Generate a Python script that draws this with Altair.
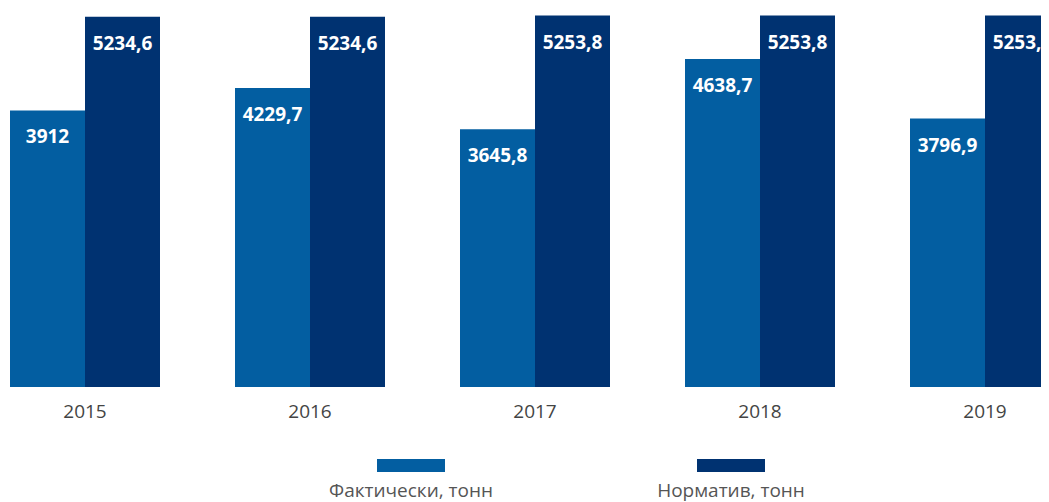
import altair as alt
import pandas as pd

years = ["2015", "2016", "2017", "2018", "2019"]
actual = [3912, 4229.7, 3645.8, 4638.7, 3796.9]
norm = [5234.6, 5234.6, 5253.8, 5253.8, 5253.8]
series = ["Фактически, тонн", "Норматив, тонн"]
colors = ["#035EA1", "#003271"]

rows = []
for i, y in enumerate(years):
    rows.append({"year": y, "series": series[0], "value": actual[i]})
    rows.append({"year": y, "series": series[1], "value": norm[i]})
df = pd.DataFrame(rows)
ldf = pd.DataFrame({"series": series})

FONT = "Open Sans"
color = alt.Color("series:N", scale=alt.Scale(domain=series, range=colors), legend=None)
xscale = alt.Scale(range=[2, 1052], paddingInner=1 / 3, paddingOuter=0)
xoff = alt.XOffset("series:N", scale=alt.Scale(domain=series, paddingInner=0, paddingOuter=0))
yenc = alt.Y("value:Q", scale=alt.Scale(domain=[0, 5360], nice=False), axis=None)

base = alt.Chart(df).transform_calculate(
    label="replace(toString(datum.value), '.', ',')"
)

bars = base.mark_bar(clip=True).encode(
    x=alt.X("year:N", sort=years, scale=xscale,
            axis=alt.Axis(title=None, labelAngle=0, domain=False, ticks=False,
                          labelFontSize=19, labelFont=FONT, labelColor="#444444",
                          labelPadding=15)),
    xOffset=xoff,
    y=yenc,
    color=color,
)

text = base.mark_text(clip=True, color="white", font=FONT, fontWeight="bold",
                      fontSize=19, baseline="middle", dy=27).encode(
    x=alt.X("year:N", sort=years, scale=xscale, axis=None),
    xOffset=xoff,
    y=yenc,
    text="label:N",
)

lx = alt.X("series:N", scale=alt.Scale(type="point", domain=series, range=[403, 723], padding=0), axis=None)
lrect = alt.Chart(ldf).mark_rect(width=68, height=13).encode(
    x=lx, y=alt.value(457.5), color=color
)
ltext = alt.Chart(ldf).mark_text(font=FONT, fontSize=19, color="#555555",
                                 baseline="middle").encode(
    x=lx, y=alt.value(483), text="series:N"
)

chart = alt.layer(bars, text, lrect, ltext).resolve_scale(x="independent").properties(
    width=1033, height=379,
    autosize=alt.AutoSizeParams(type="none"),
    padding={"left": 0, "top": 0, "right": 0, "bottom": 115},
).configure_view(stroke=None)

chart.save("out.html", embed_options={"renderer": "svg", "actions": False})
